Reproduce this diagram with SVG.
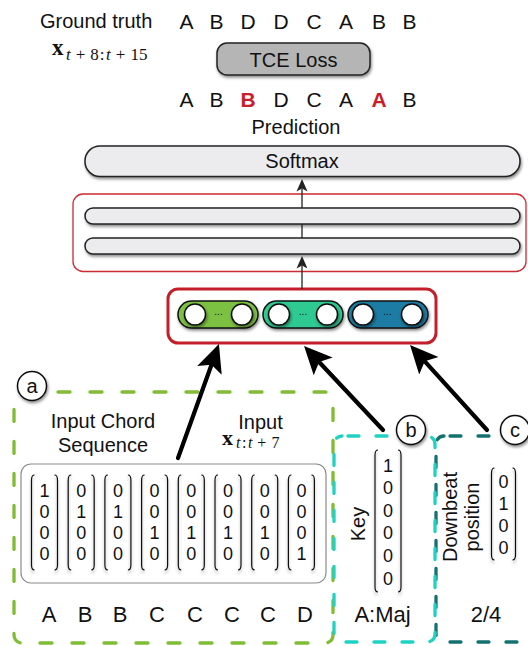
<svg xmlns="http://www.w3.org/2000/svg" width="528" height="646" viewBox="0 0 528 646">
<style>
.t{font-family:"Liberation Sans",Arial,sans-serif;fill:#111}
.m{font-family:"Liberation Serif","Times New Roman",serif;fill:#111}
.f20{font-size:20px}
.f21{font-size:21px}
.f22{font-size:22px}
.d{font-size:18px;text-anchor:middle}
.c{text-anchor:middle}
.i{font-style:italic}
.red{fill:#c8202a;font-weight:bold}
.bar{fill:#ececee;stroke:#222;stroke-width:1.5}
.br{fill:none;stroke:#111;stroke-width:1.2}
.lab{fill:#fff;stroke:#111;stroke-width:1.5}
.hole{fill:#fff;stroke:#111;stroke-width:1.5}
.pill{stroke:#111;stroke-width:1.5}
.big{fill:none;stroke:#000;stroke-width:4.2;stroke-linecap:round}
.thin{fill:none;stroke:#222;stroke-width:1.3}
</style>
<defs>
<filter id="sh" x="-20%" y="-30%" width="140%" height="180%"><feDropShadow dx="1" dy="2" stdDeviation="1.5" flood-color="#000" flood-opacity="0.45"/></filter>
<filter id="shb" x="-40%" y="-10%" width="180%" height="130%"><feDropShadow dx="0" dy="3" stdDeviation="1.8" flood-color="#000" flood-opacity="0.3"/></filter>
<marker id="ah" markerUnits="userSpaceOnUse" markerWidth="30" markerHeight="28" viewBox="0 -14 30 28" refX="6" refY="0" orient="auto"><path d="M28,0 L0,-13 L6,0 L0,13 Z" fill="#000"/></marker>
<marker id="at" markerUnits="userSpaceOnUse" markerWidth="13" markerHeight="12" viewBox="0 -6 13 12" refX="3" refY="0" orient="auto"><path d="M12.5,0 L0,-5.5 L3,0 L0,5.5 Z" fill="#222"/></marker>
<path id="b4" d="M-10,475 Q-13,475 -13,480 L-13,565 Q-13,570 -10,570 M10,475 Q13,475 13,480 L13,565 Q13,570 10,570"/>
</defs>

<g id="ground-truth">
<text class="t f20" x="40" y="28">Ground truth</text>
<text class="t f21 c" x="186.5" y="28.5">A</text>
<text class="t f21 c" x="216.5" y="28.5">B</text>
<text class="t f21 c" x="248" y="28.5">D</text>
<text class="t f21 c" x="281" y="28.5">D</text>
<text class="t f21 c" x="314" y="28.5">C</text>
<text class="t f21 c" x="346" y="28.5">A</text>
<text class="t f21 c" x="379" y="28.5">B</text>
<text class="t f21 c" x="409.5" y="28.5">B</text>
<text class="m" x="52" y="55" font-size="23" font-weight="bold">x</text>
<text class="m" x="66" y="60" font-size="17"><tspan class="i">t</tspan><tspan dx="5">+</tspan><tspan dx="5">8</tspan><tspan dx="1">:</tspan><tspan class="i" dx="1.5">t</tspan><tspan dx="5">+</tspan><tspan dx="5">15</tspan></text>
</g>

<g id="tce-loss">
<rect x="217" y="43" width="153" height="32" rx="10" fill="#b5b5b5" stroke="#222" stroke-width="1.5" filter="url(#sh)"/>
<text class="t f20 c" x="293.5" y="66.5">TCE Loss</text>
</g>

<g id="prediction">
<text class="t f21 c" x="186.5" y="106.5">A</text>
<text class="t f21 c" x="216.5" y="106.5">B</text>
<text class="t f21 c red" x="248" y="106.5">B</text>
<text class="t f21 c" x="281" y="106.5">D</text>
<text class="t f21 c" x="314" y="106.5">C</text>
<text class="t f21 c" x="346" y="106.5">A</text>
<text class="t f21 c red" x="379" y="106.5">A</text>
<text class="t f21 c" x="409.5" y="106.5">B</text>
<text class="t f20 c" x="296" y="133.5">Prediction</text>
</g>

<g id="softmax">
<rect class="bar" x="85" y="146" width="435" height="30.5" rx="15" filter="url(#sh)"/>
<text class="t f20 c" x="302" y="168">Softmax</text>
</g>

<g id="recurrent-layers">
<rect x="73" y="194" width="453" height="77.5" rx="10" fill="#fff" stroke="#cc2a32" stroke-width="1.3"/>
<rect class="bar" x="85" y="208" width="435" height="16" rx="8" filter="url(#sh)"/>
<rect class="bar" x="85" y="238" width="435" height="16" rx="8" filter="url(#sh)"/>
</g>

<g id="embedding">
<rect x="168" y="289" width="268" height="54" rx="10" fill="#fff" stroke="#c41e2b" stroke-width="3"/>
<g filter="url(#sh)">
<rect class="pill" x="178" y="301" width="80" height="27" rx="13.5" fill="#7cc142"/>
<rect class="pill" x="263" y="301" width="80" height="27" rx="13.5" fill="#2fca91"/>
<rect class="pill" x="348" y="301" width="80" height="27" rx="13.5" fill="#1c7ca3"/>
</g>
<g filter="url(#sh)">
<circle class="hole" cx="195" cy="314.5" r="10.5"/>
<circle class="hole" cx="242" cy="314.5" r="10.5"/>
<circle class="hole" cx="279" cy="314.5" r="10.5"/>
<circle class="hole" cx="327" cy="314.5" r="10.5"/>
<circle class="hole" cx="363" cy="314.5" r="10.5"/>
<circle class="hole" cx="412" cy="314.5" r="10.5"/>
</g>
<text class="t c" font-size="10" x="218.5" y="314.5">...</text>
<text class="t c" font-size="10" x="303" y="314.5">...</text>
<text class="t c" font-size="10" x="387.5" y="314.5">...</text>
</g>

<g id="input-chords">
<rect x="14" y="392" width="319" height="251" rx="8" fill="none" stroke="#80bc34" stroke-width="3.3" stroke-dasharray="12 20" stroke-linecap="round" stroke-dashoffset="-4"/>
<text class="t f20 c" x="103" y="428">Input Chord</text>
<text class="t f20 c" x="103" y="452">Sequence</text>
<text class="t f20 c" x="260.5" y="428.5">Input</text>
<text class="m" x="222" y="445" font-size="22" font-weight="bold">x</text>
<text class="m" x="236" y="448" font-size="16"><tspan class="i">t</tspan><tspan dx="1.5">:</tspan><tspan class="i" dx="1.5">t</tspan><tspan dx="5">+</tspan><tspan dx="5">7</tspan></text>
<rect x="21" y="464" width="305" height="119" rx="10" fill="#fff" stroke="#8a8a8a" stroke-width="1.2"/>
<g class="br" filter="url(#shb)">
<use href="#b4" x="44.5"/><use href="#b4" x="81.2"/><use href="#b4" x="117.9"/><use href="#b4" x="154.6"/>
<use href="#b4" x="191.3"/><use href="#b4" x="228"/><use href="#b4" x="264.7"/><use href="#b4" x="301.4"/>
</g>
<g class="t d">
<text x="44.5" y="496.5">1<tspan x="44.5" y="517.5">0</tspan><tspan x="44.5" y="538.5">0</tspan><tspan x="44.5" y="560">0</tspan></text>
<text x="81.2" y="496.5">0<tspan x="81.2" y="517.5">1</tspan><tspan x="81.2" y="538.5">0</tspan><tspan x="81.2" y="560">0</tspan></text>
<text x="117.9" y="496.5">0<tspan x="117.9" y="517.5">1</tspan><tspan x="117.9" y="538.5">0</tspan><tspan x="117.9" y="560">0</tspan></text>
<text x="154.6" y="496.5">0<tspan x="154.6" y="517.5">0</tspan><tspan x="154.6" y="538.5">1</tspan><tspan x="154.6" y="560">0</tspan></text>
<text x="191.3" y="496.5">0<tspan x="191.3" y="517.5">0</tspan><tspan x="191.3" y="538.5">1</tspan><tspan x="191.3" y="560">0</tspan></text>
<text x="228" y="496.5">0<tspan x="228" y="517.5">0</tspan><tspan x="228" y="538.5">1</tspan><tspan x="228" y="560">0</tspan></text>
<text x="264.7" y="496.5">0<tspan x="264.7" y="517.5">0</tspan><tspan x="264.7" y="538.5">1</tspan><tspan x="264.7" y="560">0</tspan></text>
<text x="301.4" y="496.5">0<tspan x="301.4" y="517.5">0</tspan><tspan x="301.4" y="538.5">0</tspan><tspan x="301.4" y="560">1</tspan></text>
</g>
<g class="t f22 c">
<text x="49" y="622">A</text><text x="85" y="622">B</text><text x="120" y="622">B</text><text x="157" y="622">C</text>
<text x="195" y="622">C</text><text x="232" y="622">C</text><text x="268" y="622">C</text><text x="305" y="622">D</text>
</g>
<circle class="lab" cx="32" cy="386" r="14.5" filter="url(#sh)"/>
<text class="t f20 c" x="32" y="393">a</text>
</g>

<g id="downbeat">
<rect x="436" y="436" width="130" height="206" rx="8" fill="none" stroke="#15716f" stroke-width="3.3" stroke-dasharray="11 17" stroke-linecap="round" stroke-dashoffset="-6"/>
<text class="t f20 c" transform="translate(456.5,517) rotate(-90)">Downbeat</text>
<text class="t f20 c" transform="translate(479,517) rotate(-90)">position</text>
<path class="br" filter="url(#shb)" d="M494.5,468 Q491.5,468 491.5,473 L491.5,555 Q491.5,560 494.5,560 M512.5,468 Q515.5,468 515.5,473 L515.5,555 Q515.5,560 512.5,560"/>
<text class="t d" x="503.5" y="488">0<tspan x="503.5" y="510">1</tspan><tspan x="503.5" y="532">0</tspan><tspan x="503.5" y="554">0</tspan></text>
<text class="t f22 c" x="486" y="622">2/4</text>
<circle class="lab" cx="515" cy="430" r="14.5" filter="url(#sh)"/>
<text class="t f20 c" x="515" y="437">c</text>
</g>

<g id="key">
<rect x="334" y="436" width="101" height="206" rx="8" fill="none" stroke="#20d2c2" stroke-width="3.3" stroke-dasharray="11 17" stroke-linecap="round" stroke-dashoffset="-6"/>
<text class="t f20 c" transform="translate(364.5,524) rotate(-90)">Key</text>
<path class="br" filter="url(#shb)" d="M378,450 Q375,450 375,455 L375,587 Q375,592 378,592 M398,450 Q401,450 401,455 L401,587 Q401,592 398,592"/>
<text class="t d" x="388" y="471.5">1<tspan x="388" y="494.1">0</tspan><tspan x="388" y="516.7">0</tspan><tspan x="388" y="539.3">0</tspan><tspan x="388" y="561.9">0</tspan><tspan x="388" y="584.5">0</tspan></text>
<text class="t f22 c" x="382.5" y="622">A:Maj</text>
<circle class="lab" cx="411" cy="430" r="14.5" filter="url(#sh)"/>
<text class="t f20 c" x="411" y="437">b</text>
</g>

<g id="connectors">
<path class="thin" d="M302,289 L302,265.5" marker-end="url(#at)"/>
<path class="thin" d="M302,238 L302,224"/>
<path class="thin" d="M302,208 L302,188.5" marker-end="url(#at)"/>
<path class="big" d="M178,458 L211.5,364.7" marker-end="url(#ah)"/>
<path class="big" d="M383,430 L319.1,362" marker-end="url(#ah)"/>
<path class="big" d="M487,430 L424.8,361.3" marker-end="url(#ah)"/>
</g>
</svg>
